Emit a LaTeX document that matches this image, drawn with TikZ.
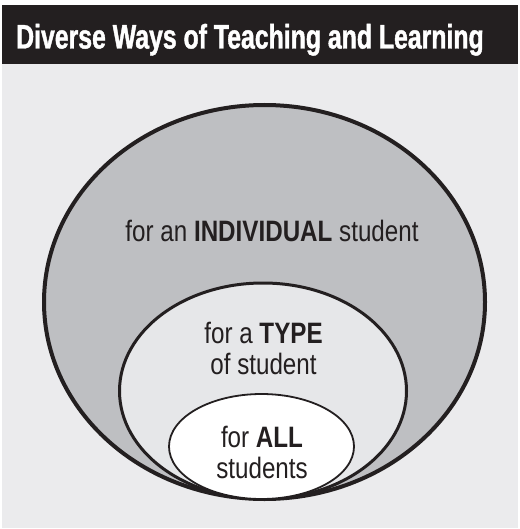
\documentclass[tikz,border=0pt]{standalone}
\usepackage{fontspec}
\setmainfont{Liberation Sans}[FakeStretch=0.82]
\newfontfamily\titlefont{Liberation Sans}[FakeStretch=0.73, FakeBold=1.2]
\definecolor{ink}{HTML}{231F20}
\definecolor{bggray}{HTML}{EBEBED}
\definecolor{outerfill}{HTML}{BEBFC2}
\definecolor{midfill}{HTML}{E6E7E9}
\tikzset{
  label/.style={inner sep=0pt, text=ink, font=\fontsize{29.5}{31}\selectfont, align=center},
}
\begin{document}
\begin{tikzpicture}[x=1pt,y=-1pt]
\useasboundingbox (0,0) rectangle (519,529);
\fill[bggray] (2,64) rectangle (518,528);
\fill[ink] (2,5) rectangle (518,64);
\node[anchor=base west, inner sep=0pt, text=white, font=\titlefont\bfseries\fontsize{34}{38}\selectfont] (title) at (16,48.5) {Diverse Ways of Teaching and Learning};
% ellipses
\draw[ink, line width=4pt, fill=outerfill] (264.5,302) ellipse [x radius=220.5, y radius=197];
\draw[ink, line width=3pt, fill=midfill] (263,391) ellipse [x radius=143.5, y radius=108];
\draw[ink, line width=1.8pt, fill=white] (261.5,446.5) ellipse [x radius=92.5, y radius=52.5];
% labels
\node[label, anchor=base] (indiv) at (272,241) {for an \textbf{INDIVIDUAL} student};
\node[label, anchor=center] (type) at (263.5,348) {for a \textbf{TYPE}\\of student};
\node[label, anchor=center] (all) at (262,452) {for \textbf{ALL}\\students};
\end{tikzpicture}
\end{document}
